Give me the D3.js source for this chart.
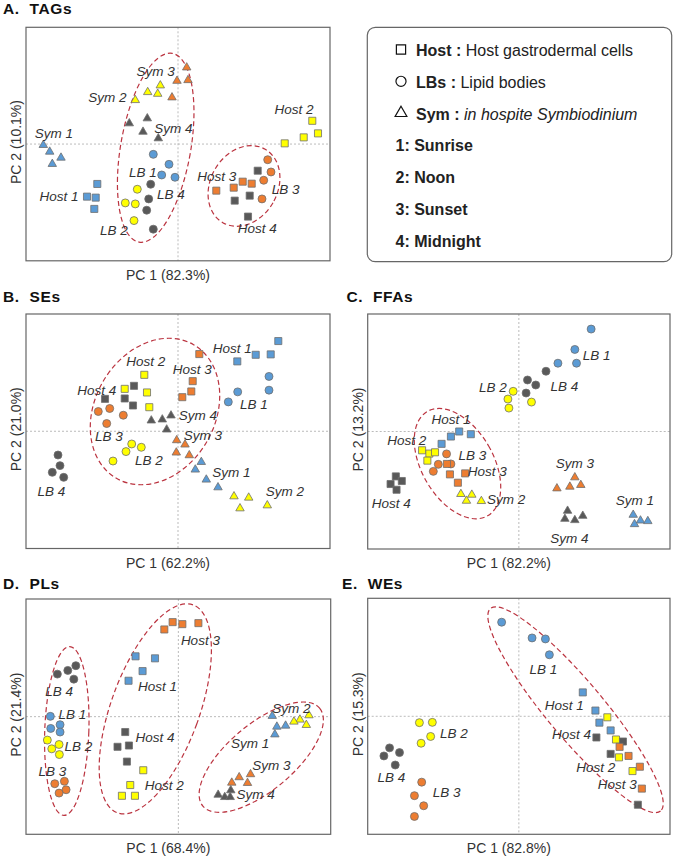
<!DOCTYPE html>
<html>
<head>
<meta charset="utf-8">
<script src="https://cdn.jsdelivr.net/npm/d3@7"></script>
<style>
  body { margin: 0; background: #fff; }
  svg { display: block; font-family: "Liberation Sans", Arial, sans-serif; }
  .frame { fill: none; stroke: #666; stroke-width: 1.2px; }
  .zero { stroke: #aaa; stroke-width: 0.8px; stroke-dasharray: 2,2; }
  .ellipse { fill: none; stroke: #bb3440; stroke-width: 1.2px; stroke-dasharray: 5,3; }
  .mark { stroke: #6f6f6f; stroke-width: 0.8px; }
  .pt-label { font-size: 13.5px; font-style: italic; fill: #333; text-anchor: middle; }
  .axis-label { font-size: 14px; fill: #333; text-anchor: middle; }
  .title { font-size: 15.5px; font-weight: bold; fill: #111; letter-spacing: 0.6px; white-space: pre; }
  .legend-text { font-size: 16px; fill: #222; }
</style>
</head>
<body>
<svg id="chart" width="675" height="857"></svg>
<script>
// PCA scores (arbitrary units, origin at the dashed cross)
const tagsPoints = [
  ["Sym 1", [[-134.7, -1], [-128.3, -7.7], [-117, -13.7], [-125.7, -20]]],
  ["Sym 2", [[-42.7, 44], [-30.3, 52], [-17.7, 58.7], [-20.3, 50.3]]],
  ["Sym 3", [[8.7, 76.7], [-1, 63.3], [10, 64], [-6, 46.7]]],
  ["Sym 4", [[-48.7, 20.7], [-30.7, 25.7], [-35, 12.3], [-19.7, 5.7]]],
  ["LB 1", [[-24.7, -10.3], [-9, -20.3], [-16.3, -31], [-3, -33.3]]],
  ["LB 2", [[-40.7, -45.3], [-52.7, -59], [-42.7, -60], [-44, -76.7]]],
  ["LB 3", [[89.7, -15.7], [93, -28], [85.7, -36.3], [84, -55]]],
  ["LB 4", [[-27.3, -40.3], [-29.3, -55], [-31.3, -66.3], [-24.7, -85.3]]],
  ["Host 1", [[-80.7, -40], [-91, -52.7], [-82.3, -53.7], [-83.7, -65]]],
  ["Host 2", [[134.3, 23.3], [140, 10.7], [125.7, 6.7], [106.7, 0.7]]],
  ["Host 3", [[38.3, -46.7], [55.7, -43.7], [64.7, -37.7], [73.7, -39.7]]],
  ["Host 4", [[79.7, -26.7], [56.7, -56.7], [71.7, -51.7], [70, -72.7]]]
];
const tagsLabels = [
  ["Sym 1", -124, 11.3], ["Sym 2", -70.7, 47.3], ["Sym 3", -22.3, 73], ["Sym 4", -4.7, 15.7],
  ["LB 1", -35, -28.3], ["LB 4", -7, -50.3], ["LB 2", -64, -86], ["Host 1", -119, -52],
  ["Host 2", 116, 35], ["Host 3", 38.7, -31.7], ["LB 3", 107.7, -45.3], ["Host 4", 79.3, -84.7]
];
const tagsEllipses = [[-22.3, -3.7, 35, 96, 10], [66, -42, 33.5, 42.5, 30]];

const sesPoints = [
  ["Host 1", [[59.3, 69.7], [77.7, 76.3], [92.7, 76.7], [100.3, 90]]],
  ["Host 2", [[-33.7, 56.3], [-53.3, 42.3], [-31, 38.7], [-28.7, 24]]],
  ["Host 3", [[21.3, 77], [14.7, 50], [13.3, 39.7], [4.3, 34]]],
  ["Host 4", [[-44, 45.3], [-73, 32.3], [-53.3, 32.7], [-45, 25.7]]],
  ["LB 1", [[91, 54.7], [91, 41], [59.7, 39.3], [50.3, 29.3]]],
  ["LB 2", [[-46.3, -12.7], [-36.7, -16], [-52, -20.3], [-65, -29.7]]],
  ["LB 3", [[-79.7, 19.7], [-68.3, 22.7], [-54.7, 16], [-71.3, 7.7]]],
  ["LB 4", [[-120, -23.7], [-118, -34.3], [-125.7, -41], [-114.3, -46]]],
  ["Sym 1", [[23.3, -30.7], [17.3, -38.3], [28.3, -48.3], [40, -56]]],
  ["Sym 2", [[56, -65], [70.7, -66.3], [62, -77], [89.3, -74]]],
  ["Sym 3", [[-1.3, -9], [7, -13.3], [-1.7, -21.3], [11.3, -24]]],
  ["Sym 4", [[-26.7, 10.7], [-15.7, 11.7], [-7, 15.7], [-11.3, 1.7]]]
];
const sesLabels = [
  ["Host 1", 54.3, 83.3], ["Host 2", -32.3, 70], ["Host 3", 14.3, 62.3], ["Host 4", -81.3, 40.7],
  ["LB 1", 76, 27.3], ["Sym 4", 20, 15.7], ["LB 3", -69, -5.3], ["Sym 3", 25, -4.3],
  ["LB 2", -29, -29.3], ["Sym 1", 53.3, -41], ["Sym 2", 107, -60], ["LB 4", -126.7, -59.7]
];
const sesEllipses = [[-23, 19.7, 60, 77, 30]];

const ffasPoints = [
  ["LB 1", [[72.7, 102], [56.3, 81.7], [58, 68], [39.3, 68]]],
  ["LB 2", [[-5.7, 40], [-11, 32.3], [-10, 23.3], [12.7, 29.3]]],
  ["LB 3", [[-72.7, -22.3], [-81, -32.7], [-68.3, -32.3], [-86, -39.7]]],
  ["LB 4", [[27.3, 60], [8.7, 51.3], [17, 46.3], [7.3, 38.3]]],
  ["Host 1", [[-60, 0], [-68.3, -5], [-48.3, -2.7], [-77.7, -12.3]]],
  ["Host 2", [[-97.3, -18.7], [-90, -22], [-84.3, -20.7], [-92, -29]]],
  ["Host 3", [[-72.3, -32.3], [-54, -41.7], [-69.3, -42.7], [-61.3, -51]]],
  ["Host 4", [[-123.7, -44.7], [-117.7, -49.3], [-129, -52.3], [-123, -58]]],
  ["Sym 1", [[115, -83], [122.3, -88.7], [129.7, -89.3], [116.3, -92.3]]],
  ["Sym 2", [[-58.3, -62.3], [-47.3, -63], [-52.7, -69], [-37.7, -69.3]]],
  ["Sym 3", [[56.3, -45.7], [51.3, -55], [62.3, -53.3], [38.3, -56.7]]],
  ["Sym 4", [[49, -79], [64.3, -84], [56.3, -88.3], [46.3, -87]]]
];
const ffasLabels = [
  ["LB 1", 78.3, 76], ["LB 2", -26, 44], ["LB 4", 45.7, 45], ["Host 1", -68.3, 12.3],
  ["Host 2", -112.7, -8.7], ["LB 3", -46.7, -23.3], ["Host 3", -31.7, -39.3], ["Sym 3", 56.3, -31.7],
  ["Sym 2", -12.7, -67], ["Host 4", -128.3, -71], ["Sym 1", 116.7, -68.3], ["Sym 4", 50.7, -105.7]
];
const ffasEllipses = [[-61.7, -32, 36, 60, -30]];

const plsPoints = [
  ["Host 1", [[-42.7, 60], [-23.3, 58], [-35.7, 45.3], [-49.7, 35.7]]],
  ["Host 2", [[-35, -53.3], [-48, -68], [-56.3, -78.7], [-43.3, -78.7]]],
  ["Host 3", [[-14, 86.7], [-5.7, 94], [4, 92], [20, 93]]],
  ["Host 4", [[-53, -15.3], [-60.7, -30], [-49.3, -28.7], [-51.3, -44.7]]],
  ["LB 1", [[-127.7, 0.3], [-118, -8], [-127.3, -11.7], [-118, -15.3]]],
  ["LB 2", [[-130.7, -23.3], [-119, -27.7], [-126.3, -32], [-118.7, -37.7]]],
  ["LB 3", [[-123.3, -66.7], [-113.7, -64.3], [-112, -72.7], [-119, -76]]],
  ["LB 4", [[-102.3, 50.7], [-110.3, 46], [-120.7, 42.3], [-104.3, 37.3]]],
  ["Sym 1", [[93.7, 0.7], [107, -9], [98.3, -10], [96.3, -17.7]]],
  ["Sym 2", [[130.3, 1.3], [121.3, -3], [115.3, -5], [127.7, -8.3]]],
  ["Sym 3", [[72, -57.3], [60.7, -60.3], [53.3, -65.7], [69, -66]]],
  ["Sym 4", [[39.7, -77.7], [46.3, -80], [52.3, -73.3], [51.7, -80]]]
];
const plsLabels = [
  ["Host 3", 22, 76.3], ["Host 1", -20.7, 30.7], ["LB 4", -119, 25], ["LB 1", -105.7, 2.3],
  ["Sym 2", 112.7, 8], ["Host 4", -23.3, -20.3], ["LB 2", -99.7, -29.3], ["Sym 1", 71.7, -26.7],
  ["LB 3", -125.7, -53.7], ["Sym 3", 92.7, -48.7], ["Host 2", -14, -68.3], ["Sym 4", 77, -76.7]
];
const plsEllipses = [[-111.3, -14.3, 22, 84, 2], [-23, 7.7, 44, 110, 20], [82.7, -40.3, 76, 33, -40]];

const wesPoints = [
  ["LB 1", [[-17.3, 93.3], [13.3, 77.7], [26.7, 76.7], [30.7, 61]]],
  ["LB 2", [[-100, -6.3], [-87, -6], [-88.7, -20], [-98.3, -26.7]]],
  ["LB 3", [[-97.7, -65.3], [-105, -78.7], [-95.7, -88.7], [-105, -99.3]]],
  ["LB 4", [[-130, -31.3], [-120, -36], [-135.7, -39.3], [-124.3, -48.3]]],
  ["Host 1", [[64.3, 23.7], [77, 5.7], [81, -6.3], [92.3, -14]]],
  ["Host 2", [[89, -1], [97.7, -23], [100.7, -40.7], [114.3, -54.3]]],
  ["Host 4", [[78, -21], [104.7, -25], [92.3, -37.3], [119.7, -87.7]]],
  ["Host 3", [[101.3, -30.3], [110.3, -39.3], [121.7, -50], [123.7, -71.7]]]
];
const wesLabels = [
  ["LB 1", 24.7, 46.3], ["Host 1", 45.7, 10.7], ["LB 2", -65.3, -16.7], ["Host 4", 53, -17.7],
  ["LB 4", -128.3, -60.3], ["Host 2", 77.3, -50], ["LB 3", -72.7, -75.3], ["Host 3", 99, -67.3]
];
const wesEllipses = [[57, 6.5, 133, 28, 50]];

const legendRows = [
  ["Host", "Host gastrodermal cells", false],
  ["LBs", "Lipid bodies", false],
  ["Sym", "in hospite Symbiodinium", true]
];
const timeLabels = ["1: Sunrise", "2: Noon", "3: Sunset", "4: Midnight"];

const fillColors = { 1: "#5b9bd5", 2: "#ffff00", 3: "#ed7d31", 4: "#595959" };
const textColors = ["#1f5fc2", "#d2c81c", "#de5420", "#444444"];
const shapes = { Host: d3.symbolSquare, LB: d3.symbolCircle, Sym: d3.symbolTriangle };
const shapeSize = { Host: 50, LB: 50, Sym: 31 };

const panels = [
  { tag: "A.", name: "TAGs", tx: 3, ty: 14, x0: 26, y0: 27.3, w: 304, h: 233.5,
    pc: ["PC 1 (82.3%)", "PC 2 (10.1%)"], pts: tagsPoints, labels: tagsLabels, ell: tagsEllipses },
  { tag: "B.", name: "SEs", tx: 3, ty: 301.5, x0: 26, y0: 314, w: 304, h: 234.5,
    pc: ["PC 1 (62.2%)", "PC 2 (21.0%)"], pts: sesPoints, labels: sesLabels, ell: sesEllipses },
  { tag: "C.", name: "FFAs", tx: 346.5, ty: 301.5, x0: 367.7, y0: 314, w: 302.3, h: 235,
    pc: ["PC 1 (82.2%)", "PC 2 (13.2%)"], pts: ffasPoints, labels: ffasLabels, ell: ffasEllipses },
  { tag: "D.", name: "PLs", tx: 3, ty: 589, x0: 26, y0: 599, w: 304.7, h: 235.3,
    pc: ["PC 1 (68.4%)", "PC 2 (21.4%)"], pts: plsPoints, labels: plsLabels, ell: plsEllipses },
  { tag: "E.", name: "WEs", tx: 342, ty: 589, x0: 367.7, y0: 598.3, w: 302.3, h: 236,
    pc: ["PC 1 (82.8%)", "PC 2 (15.3%)"], pts: wesPoints, labels: wesLabels, ell: wesEllipses }
];

const svg = d3.select("#chart");

panels.forEach(p => {
  const x = d3.scaleLinear().domain([-152, 152]).range([p.x0, p.x0 + p.w]);
  const y = d3.scaleLinear().domain([-117, 117]).range([p.y0 + p.h, p.y0]);
  const g = svg.append("g");

  g.append("text").attr("class", "title")
    .attr("x", p.tx).attr("y", p.ty)
    .text(`${p.tag}  ${p.name}`);

  // dashed cross through the origin
  g.append("line").attr("class", "zero")
    .attr("x1", x(0)).attr("x2", x(0)).attr("y1", p.y0).attr("y2", p.y0 + p.h);
  g.append("line").attr("class", "zero")
    .attr("x1", p.x0).attr("x2", p.x0 + p.w).attr("y1", y(0)).attr("y2", y(0));

  g.append("rect").attr("class", "frame")
    .attr("x", p.x0).attr("y", p.y0).attr("width", p.w).attr("height", p.h);

  g.append("text").attr("class", "axis-label")
    .attr("x", x(0) - 10).attr("y", p.y0 + p.h + 19)
    .text(p.pc[0]);
  g.append("text").attr("class", "axis-label")
    .attr("transform", `translate(${p.x0 - 9.5},${y(0) - 2}) rotate(-90)`)
    .attr("dy", "0.35em")
    .text(p.pc[1]);

  // group ellipses (radii in score units, rotation in screen degrees)
  g.selectAll(".ellipse")
    .data(p.ell)
    .enter().append("ellipse")
    .attr("class", "ellipse")
    .attr("rx", d => x(d[2]) - x(0))
    .attr("ry", d => y(0) - y(d[3]))
    .attr("transform", d => `translate(${x(d[0])},${y(d[1])}) rotate(${d[4]})`);

  const marks = p.pts.flatMap(([grp, pts]) => {
    const [type, num] = grp.split(" ");
    return pts.map(pt => ({ type, num, px: pt[0], py: pt[1] }));
  });

  g.selectAll(".mark")
    .data(marks)
    .enter().append("path")
    .attr("class", "mark")
    .attr("d", d => d3.symbol().type(shapes[d.type]).size(shapeSize[d.type])())
    .attr("fill", d => fillColors[d.num])
    .attr("transform", d => `translate(${x(d.px)},${y(d.py)})`);

  g.selectAll(".pt-label")
    .data(p.labels)
    .enter().append("text")
    .attr("class", "pt-label")
    .attr("x", d => x(d[1]))
    .attr("y", d => y(d[2]))
    .attr("dy", "0.36em")
    .text(d => d[0]);
});

// legend box
const lg = svg.append("g");
lg.append("rect")
  .attr("x", 367.3).attr("y", 27.3).attr("width", 304.4).attr("height", 234.4)
  .attr("rx", 8).attr("ry", 8)
  .attr("fill", "none").attr("stroke", "#666").attr("stroke-width", 1.2);

const rowY = i => 56 + i * 31.8;
const legendShapes = [d3.symbolSquare, d3.symbolCircle, d3.symbolTriangle];
const legendSizes = [85, 80, 60];

legendRows.forEach((r, i) => {
  lg.append("path")
    .attr("d", d3.symbol().type(legendShapes[i]).size(legendSizes[i])())
    .attr("transform", `translate(401,${rowY(i) - 6.5})`)
    .attr("fill", "none").attr("stroke", "#111").attr("stroke-width", 1.2);
  const t = lg.append("text").attr("class", "legend-text")
    .attr("x", 416).attr("y", rowY(i));
  t.append("tspan").attr("font-weight", "bold").text(`${r[0]} :`);
  t.append("tspan").attr("font-style", r[2] ? "italic" : "normal").text(` ${r[1]}`);
});

timeLabels.forEach((s, i) => {
  lg.append("text").attr("class", "legend-text")
    .attr("x", 395.5).attr("y", rowY(i + 3))
    .attr("font-weight", "bold")
    .attr("fill", textColors[i])
    .text(s);
});
</script>
</body>
</html>
